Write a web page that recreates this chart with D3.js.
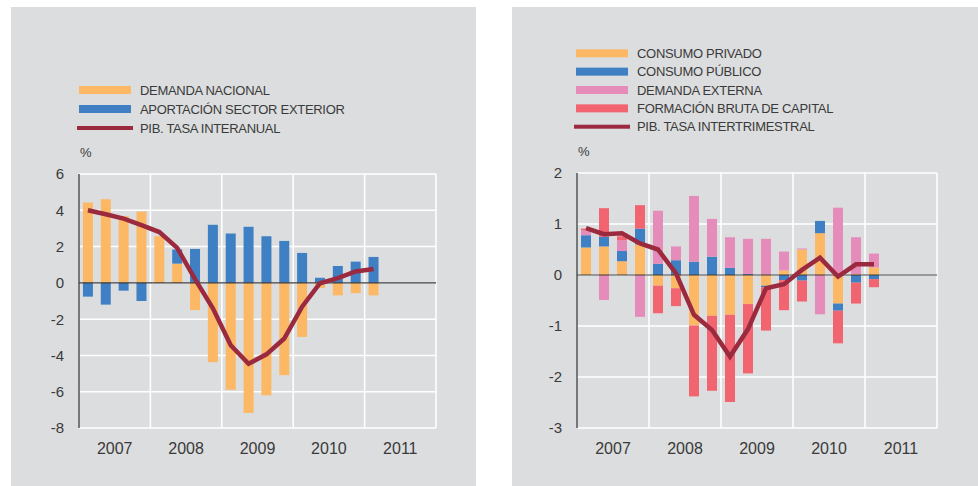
<!DOCTYPE html>
<html>
<head>
<meta charset="utf-8">
<script src="https://cdn.jsdelivr.net/npm/d3@7"></script>
<style>
  body { margin: 0; background: #fff; }
  text { font-family: "Liberation Sans", Arial, sans-serif; fill: #3a3a3a; }
</style>
</head>
<body>
<svg id="chart" width="978" height="486"></svg>
<script>
// Quarters 2007Q1 .. 2011Q1
const quarters = ["2007Q1","2007Q2","2007Q3","2007Q4","2008Q1","2008Q2","2008Q3","2008Q4",
                  "2009Q1","2009Q2","2009Q3","2009Q4","2010Q1","2010Q2","2010Q3","2010Q4","2011Q1"];
const years = [2007, 2008, 2009, 2010, 2011];

// Left chart
const demandaNacional    = [4.43, 4.61, 3.68, 3.93, 2.57, 1.06, -1.50, -4.37, -5.89, -7.17, -6.20, -5.09, -2.98, -0.28, -0.69, -0.57, -0.69];
const aportacionExterior = [-0.76, -1.20, -0.43, -1.00, 0.00, 0.78, 1.87, 3.20, 2.72, 3.09, 2.57, 2.31, 1.65, 0.28, 0.93, 1.17, 1.43];
const pibInteranual      = [4.00, 3.78, 3.54, 3.18, 2.80, 1.93, 0.20, -1.40, -3.44, -4.46, -3.94, -3.07, -1.31, -0.02, 0.26, 0.63, 0.76];
const leftTicks = [6, 4, 2, 0, -2, -4, -6, -8];

// Right chart
const consumoPrivado     = [0.54, 0.56, 0.27, 0.60, -0.21, -0.26, -0.99, -0.80, -0.78, -0.57, -0.21, 0.09, 0.50, 0.82, -0.56, 0.02, 0.15];
const consumoPublico     = [0.24, 0.19, 0.20, 0.31, 0.22, 0.29, 0.26, 0.36, 0.14, 0.02, -0.03, -0.10, -0.11, 0.24, -0.14, -0.15, -0.08];
const demandaExterna     = [0.10, -0.49, 0.21, -0.82, 1.04, 0.27, 1.29, 0.74, 0.60, 0.69, 0.71, 0.37, 0.02, -0.77, 1.32, 0.72, 0.27];
const formacionBruta     = [0.03, 0.56, 0.08, 0.46, -0.54, -0.35, -1.39, -1.47, -1.71, -1.36, -0.85, -0.59, -0.41, 0.00, -0.64, -0.41, -0.16];
const pibIntertrimestral = [0.92, 0.80, 0.82, 0.62, 0.50, 0.03, -0.78, -1.08, -1.60, -1.06, -0.26, -0.18, 0.10, 0.34, -0.03, 0.21, 0.21];
const rightTicks = [2, 1, 0, -1, -2, -3];

const colors = {
    orange: "#fcb864",
    blue: "#3f7fc4",
    pink: "#e68cba",
    red: "#f26570",
    line: "#9b2a3f"
};

const svg = d3.select("#chart");

// gray panels
svg.append("rect").attr("x", 11).attr("y", 7).attr("width", 465).attr("height", 479).attr("fill", "#dcddde");
svg.append("rect").attr("x", 512).attr("y", 7).attr("width", 466).attr("height", 479).attr("fill", "#dcddde");

function drawPanel(opt) {
    const g = svg.append("g");
    const x = d3.scaleLinear().domain([2007, 2012]).range([opt.left, opt.right]);
    const y = d3.scaleLinear().domain(opt.domain).range([opt.bottom, opt.top]);
    const qx = i => x(2007 + (i + 0.5) / 4);

    // grid
    g.selectAll(".hgrid").data(opt.ticks).enter().append("line")
        .attr("x1", opt.left).attr("x2", opt.right)
        .attr("y1", d => y(d)).attr("y2", d => y(d))
        .attr("stroke", "#fff").attr("stroke-width", 1.5);
    g.selectAll(".vgrid").data(years.concat([2012]).slice(1)).enter().append("line")
        .attr("x1", d => x(d)).attr("x2", d => x(d))
        .attr("y1", opt.top).attr("y2", opt.bottom)
        .attr("stroke", "#fff").attr("stroke-width", 1.5);

    // stacked bars
    const rows = quarters.map((q, i) => {
        const r = { q: q, i: i };
        opt.series.forEach(s => r[s.key] = s.values[i]);
        return r;
    });
    const stack = d3.stack()
        .keys(opt.series.map(s => s.key))
        .offset(d3.stackOffsetDiverging);
    const layers = stack(rows);
    const barW = 10;
    g.selectAll(".layer").data(layers).enter().append("g")
        .attr("fill", (d, k) => opt.series[k].color)
        .selectAll("rect").data(d => d).enter().append("rect")
        .attr("x", d => qx(d.data.i) - barW / 2)
        .attr("width", barW)
        .attr("y", d => y(Math.max(d[0], d[1])))
        .attr("height", d => Math.abs(y(d[0]) - y(d[1])));

    // left axis line and zero line
    g.append("line").attr("x1", opt.left).attr("x2", opt.left)
        .attr("y1", opt.top).attr("y2", opt.bottom)
        .attr("stroke", "#555").attr("stroke-width", 1.5);
    g.append("line").attr("x1", opt.left).attr("x2", opt.right)
        .attr("y1", y(0)).attr("y2", y(0))
        .attr("stroke", "#3a3a3a").attr("stroke-width", 1.2);

    // PIB line
    const line = d3.line().x((d, i) => qx(i)).y(d => y(d));
    g.append("path").datum(opt.line)
        .attr("d", line)
        .attr("fill", "none")
        .attr("stroke", colors.line)
        .attr("stroke-width", 4.5)
        .attr("stroke-linejoin", "miter");

    // y tick labels
    g.selectAll(".ylab").data(opt.ticks).enter().append("text")
        .attr("x", opt.left - 15).attr("y", d => y(d))
        .attr("dy", "0.36em").attr("text-anchor", "end")
        .style("font-size", "15px")
        .text(d => d);
    g.append("text").attr("x", opt.left + 1).attr("y", opt.top - 17)
        .style("font-size", "13px").text("%");

    // year labels
    g.selectAll(".xlab").data(years).enter().append("text")
        .attr("x", d => x(d + 0.5)).attr("y", 448)
        .attr("dy", "0.36em").attr("text-anchor", "middle")
        .style("font-size", "16px")
        .text(d => d);

    // legend
    const items = opt.series.map(s => ({ label: s.label, color: s.color, type: "bar" }))
        .concat([{ label: opt.lineLabel, color: colors.line, type: "line" }]);
    const lg = g.selectAll(".leg").data(items).enter().append("g")
        .attr("transform", (d, i) => `translate(${opt.legX},${opt.legY + i * opt.legStep})`);
    lg.append("rect")
        .attr("x", d => d.type === "line" ? -2 : 0)
        .attr("y", d => d.type === "line" ? -2 : -4)
        .attr("width", d => d.type === "line" ? 56 : 52)
        .attr("height", d => d.type === "line" ? 4 : 8)
        .attr("fill", d => d.color);
    lg.append("text").attr("x", 61).attr("dy", "0.36em")
        .style("font-size", "13px").style("letter-spacing", "-0.3px")
        .text(d => d.label);
}

drawPanel({
    left: 79, right: 436, top: 174, bottom: 428,
    domain: [-8, 6], ticks: leftTicks,
    series: [
        { key: "dn", label: "DEMANDA NACIONAL", values: demandaNacional, color: colors.orange },
        { key: "ae", label: "APORTACIÓN SECTOR EXTERIOR", values: aportacionExterior, color: colors.blue }
    ],
    line: pibInteranual, lineLabel: "PIB. TASA INTERANUAL",
    legX: 79, legY: 90, legStep: 19
});

drawPanel({
    left: 577, right: 937, top: 173, bottom: 428,
    domain: [-3, 2], ticks: rightTicks,
    series: [
        { key: "cp", label: "CONSUMO PRIVADO", values: consumoPrivado, color: colors.orange },
        { key: "cpu", label: "CONSUMO PÚBLICO", values: consumoPublico, color: colors.blue },
        { key: "de", label: "DEMANDA EXTERNA", values: demandaExterna, color: colors.pink },
        { key: "fbc", label: "FORMACIÓN BRUTA DE CAPITAL", values: formacionBruta, color: colors.red }
    ],
    line: pibIntertrimestral, lineLabel: "PIB. TASA INTERTRIMESTRAL",
    legX: 576, legY: 53.3, legStep: 18.35
});
</script>
</body>
</html>
